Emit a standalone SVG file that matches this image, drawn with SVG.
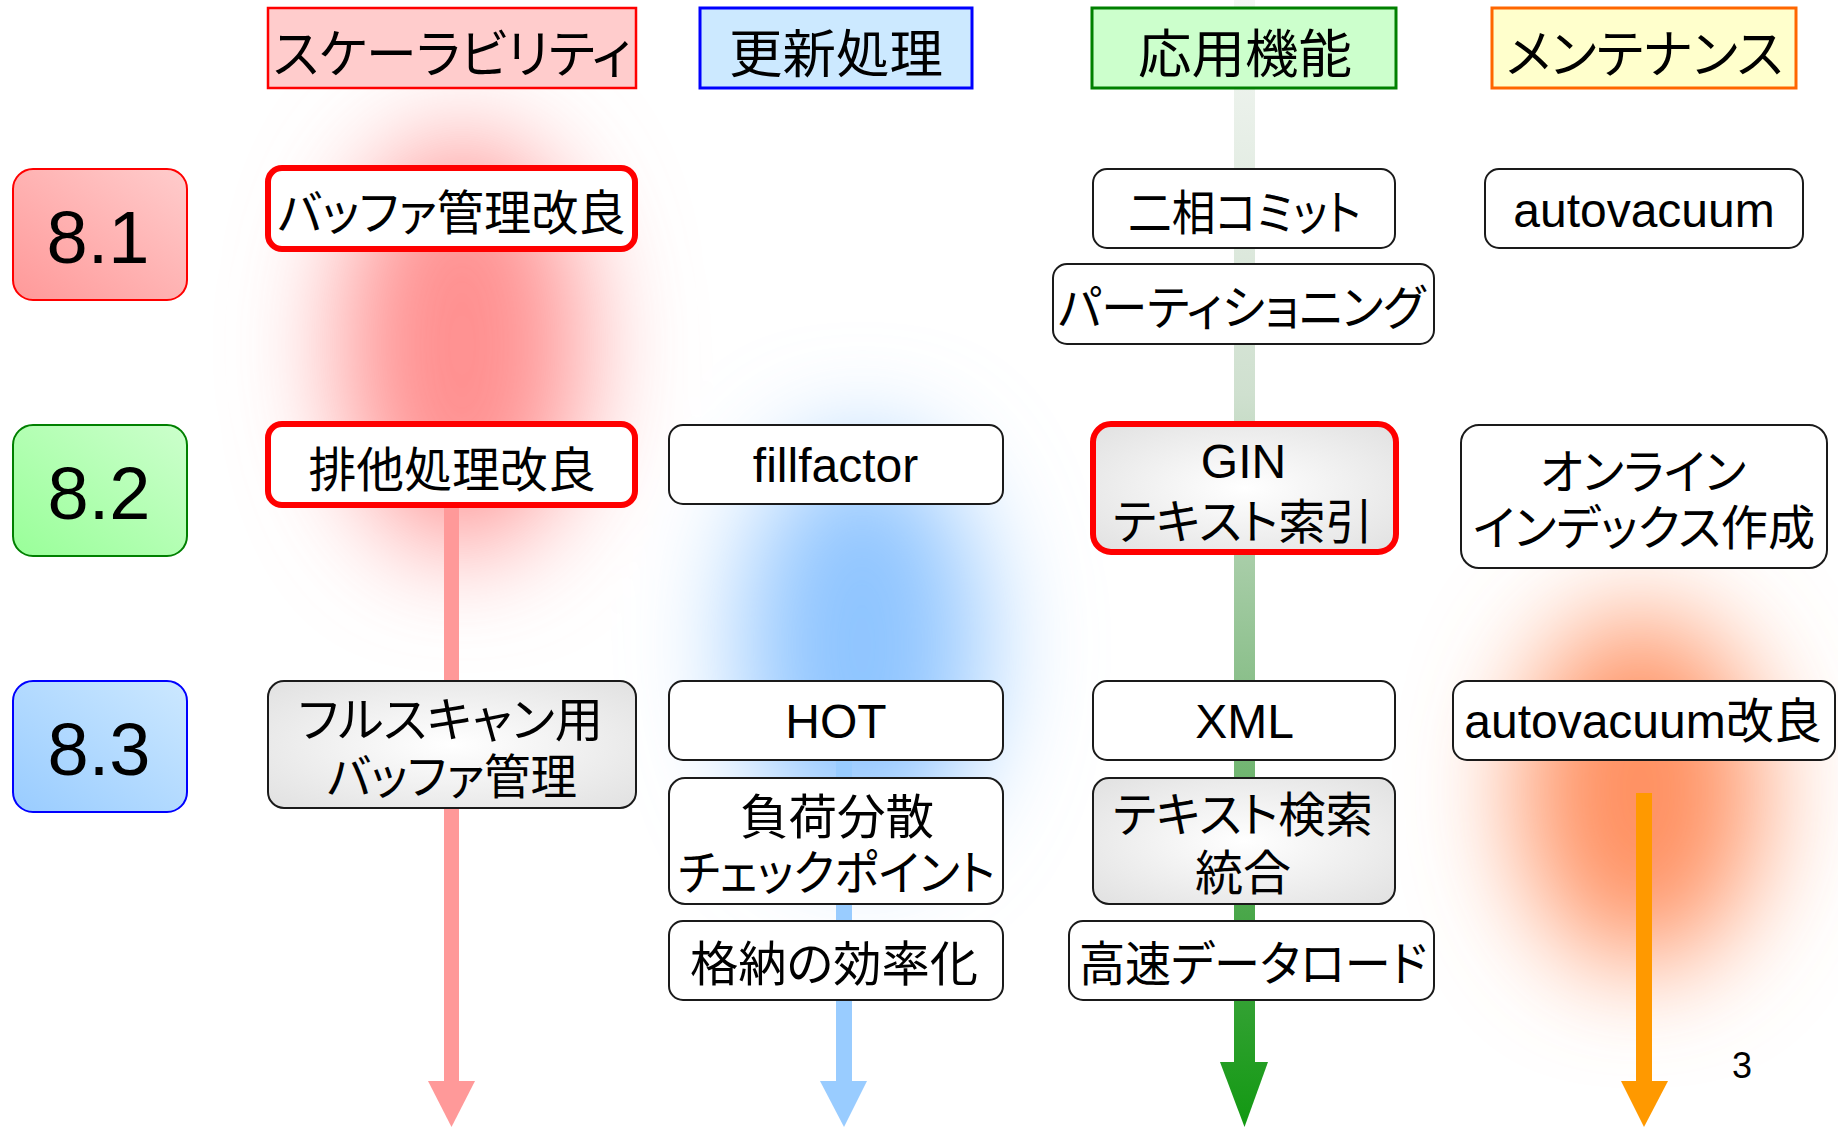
<svg xmlns="http://www.w3.org/2000/svg" width="1838" height="1127" viewBox="0 0 1838 1127">
<defs>
<style>
text{font-family:"Liberation Sans","Noto Sans CJK JP",sans-serif;fill:#000;font-feature-settings:"palt" 1;}
.n{font-size:48px;text-anchor:middle;}
.h{font-size:52px;text-anchor:middle;}
.v{font-size:74px;text-anchor:middle;}
.box{fill:#fff;stroke:#1a1a1a;stroke-width:2;}
.gray{fill:url(#grayFill);stroke:#1a1a1a;stroke-width:2;}
.hl{stroke:#ff0000;stroke-width:6;}
</style>
<filter id="glow" x="-150%" y="-150%" width="400%" height="400%">
<feGaussianBlur stdDeviation="55"/>
</filter>
<radialGradient id="grayFill" cx="50%" cy="50%" r="65%">
<stop offset="0" stop-color="#ffffff"/>
<stop offset="1" stop-color="#e3e3e3"/>
</radialGradient>
<linearGradient id="g81" x1="0" y1="1" x2="1" y2="0">
<stop offset="0" stop-color="#ff9999"/>
<stop offset="1" stop-color="#ffcccc"/>
</linearGradient>
<linearGradient id="g82" x1="0" y1="1" x2="1" y2="0">
<stop offset="0" stop-color="#99ff99"/>
<stop offset="1" stop-color="#ccffcc"/>
</linearGradient>
<linearGradient id="g83" x1="0" y1="1" x2="1" y2="0">
<stop offset="0" stop-color="#99ccff"/>
<stop offset="1" stop-color="#cce8ff"/>
</linearGradient>
<linearGradient id="greenLine" gradientUnits="userSpaceOnUse" x1="0" y1="0" x2="0" y2="1127">
<stop offset="0" stop-color="#f4f7f4"/>
<stop offset="0.35" stop-color="#cfe0cf"/>
<stop offset="0.6" stop-color="#8cc08c"/>
<stop offset="0.8" stop-color="#4da84d"/>
<stop offset="1" stop-color="#129912"/>
</linearGradient>
</defs>

<g id="glows" filter="url(#glow)">
<ellipse cx="462" cy="345" rx="120" ry="205" fill="#ff8f8f"/>
<ellipse cx="862" cy="645" rx="120" ry="200" fill="#8ec4ff"/>
<ellipse cx="1640" cy="790" rx="120" ry="175" fill="#ff9060"/>
</g>

<g id="connectors">
<rect x="444" y="505" width="15" height="578" fill="#ff9999"/>
<polygon points="428,1081 475,1081 451.5,1127" fill="#ff9999"/>
<rect x="836" y="740" width="16" height="343" fill="#99ccff"/>
<polygon points="820,1081 867,1081 844,1127" fill="#99ccff"/>
<rect x="1234" y="0" width="21" height="1064" fill="url(#greenLine)"/>
<polygon points="1220,1062 1268,1062 1244.5,1127" fill="url(#greenLine)"/>
<rect x="1636" y="793" width="16" height="290" fill="#ff9900"/>
<polygon points="1621,1081 1668,1081 1644,1127" fill="#ff9900"/>
</g>

<g id="header-scalability">
<rect x="268" y="8" width="368" height="80" fill="#ffcccc" stroke="#ff0000" stroke-width="2.5"/>
<text class="h" x="452" y="73" textLength="358" lengthAdjust="spacingAndGlyphs">スケーラビリティ</text>
</g>
<g id="header-update">
<rect x="700" y="8" width="272" height="80" fill="#cce9ff" stroke="#0000ff" stroke-width="3"/>
<text class="h" x="836" y="73" textLength="214" lengthAdjust="spacingAndGlyphs">更新処理</text>
</g>
<g id="header-app">
<rect x="1092" y="8" width="304" height="80" fill="#ccffcc" stroke="#008000" stroke-width="3"/>
<text class="h" x="1245" y="73" textLength="214" lengthAdjust="spacingAndGlyphs">応用機能</text>
</g>
<g id="header-maint">
<rect x="1492" y="8" width="304" height="80" fill="#ffffcc" stroke="#ff6600" stroke-width="3"/>
<text class="h" x="1644.5" y="73" textLength="277" lengthAdjust="spacingAndGlyphs">メンテナンス</text>
</g>

<g id="ver-81">
<rect x="13" y="169" width="174" height="131" rx="20" fill="url(#g81)" stroke="#ff0000" stroke-width="2"/>
<text class="v" x="98" y="263">8.1</text>
</g>
<g id="ver-82">
<rect x="13" y="425" width="174" height="131" rx="20" fill="url(#g82)" stroke="#008000" stroke-width="2"/>
<text class="v" x="99" y="519">8.2</text>
</g>
<g id="ver-83">
<rect x="13" y="681" width="174" height="131" rx="20" fill="url(#g83)" stroke="#0000ff" stroke-width="2"/>
<text class="v" x="99" y="775">8.3</text>
</g>

<g id="n-buffer">
<rect class="box hl" x="268" y="168" width="367" height="81" rx="14"/>
<text class="n" x="451.5" y="230" textLength="348" lengthAdjust="spacingAndGlyphs">バッファ管理改良</text>
</g>
<g id="n-lock">
<rect class="box hl" x="268" y="424" width="367" height="81" rx="14"/>
<text class="n" x="452" y="487" textLength="287" lengthAdjust="spacingAndGlyphs">排他処理改良</text>
</g>
<g id="n-fullscan">
<rect class="gray" x="268" y="681" width="368" height="127" rx="16"/>
<text class="n" x="450.5" y="737" textLength="305" lengthAdjust="spacingAndGlyphs">フルスキャン用</text>
<text class="n" x="452" y="794" textLength="250" lengthAdjust="spacingAndGlyphs">バッファ管理</text>
</g>

<g id="n-fillfactor">
<rect class="box" x="669" y="425" width="334" height="79" rx="14"/>
<text class="n" x="835.5" y="482">fillfactor</text>
</g>
<g id="n-hot">
<rect class="box" x="669" y="681" width="334" height="79" rx="14"/>
<text class="n" x="836" y="738">HOT</text>
</g>
<g id="n-checkpoint">
<rect class="box" x="669" y="778" width="334" height="126" rx="16"/>
<text class="n" x="837" y="834" textLength="194" lengthAdjust="spacingAndGlyphs">負荷分散</text>
<text class="n" x="836.5" y="890" textLength="317" lengthAdjust="spacingAndGlyphs">チェックポイント</text>
</g>
<g id="n-storage">
<rect class="box" x="669" y="921" width="334" height="79" rx="14"/>
<text class="n" x="834" y="981" textLength="288" lengthAdjust="spacingAndGlyphs">格納の効率化</text>
</g>

<g id="n-2pc">
<rect class="box" x="1093" y="169" width="302" height="79" rx="14"/>
<text class="n" x="1244.5" y="230" textLength="233" lengthAdjust="spacingAndGlyphs">二相コミット</text>
</g>
<g id="n-partition">
<rect class="box" x="1053" y="264" width="381" height="80" rx="14"/>
<text class="n" x="1241.5" y="325" textLength="367" lengthAdjust="spacingAndGlyphs">パーティショニング</text>
</g>
<g id="n-gin">
<rect class="gray hl" x="1093" y="424" width="303" height="128" rx="18"/>
<text class="n" x="1243.5" y="478">GIN</text>
<text class="n" x="1243" y="539" textLength="260" lengthAdjust="spacingAndGlyphs">テキスト索引</text>
</g>
<g id="n-xml">
<rect class="box" x="1093" y="681" width="302" height="79" rx="14"/>
<text class="n" x="1244.5" y="738">XML</text>
</g>
<g id="n-tsearch">
<rect class="gray" x="1093" y="778" width="302" height="126" rx="16"/>
<text class="n" x="1243" y="832" textLength="260" lengthAdjust="spacingAndGlyphs">テキスト検索</text>
<text class="n" x="1243" y="890" textLength="96" lengthAdjust="spacingAndGlyphs">統合</text>
</g>
<g id="n-bulkload">
<rect class="box" x="1069" y="921" width="365" height="79" rx="14"/>
<text class="n" x="1253" y="981" textLength="348" lengthAdjust="spacingAndGlyphs">高速データロード</text>
</g>

<g id="n-autovacuum">
<rect class="box" x="1485" y="169" width="318" height="79" rx="14"/>
<text class="n" x="1644" y="227">autovacuum</text>
</g>
<g id="n-online-index">
<rect class="box" x="1461" y="425" width="366" height="143" rx="18"/>
<text class="n" x="1643" y="489" textLength="206" lengthAdjust="spacingAndGlyphs">オンライン</text>
<text class="n" x="1644" y="545" textLength="342" lengthAdjust="spacingAndGlyphs">インデックス作成</text>
</g>
<g id="n-autovacuum2">
<rect class="box" x="1453" y="681" width="382" height="79" rx="14"/>
<text class="n" x="1643" y="738">autovacuum改良</text>
</g>

<text x="1742" y="1078" font-size="36" text-anchor="middle">3</text>
</svg>
